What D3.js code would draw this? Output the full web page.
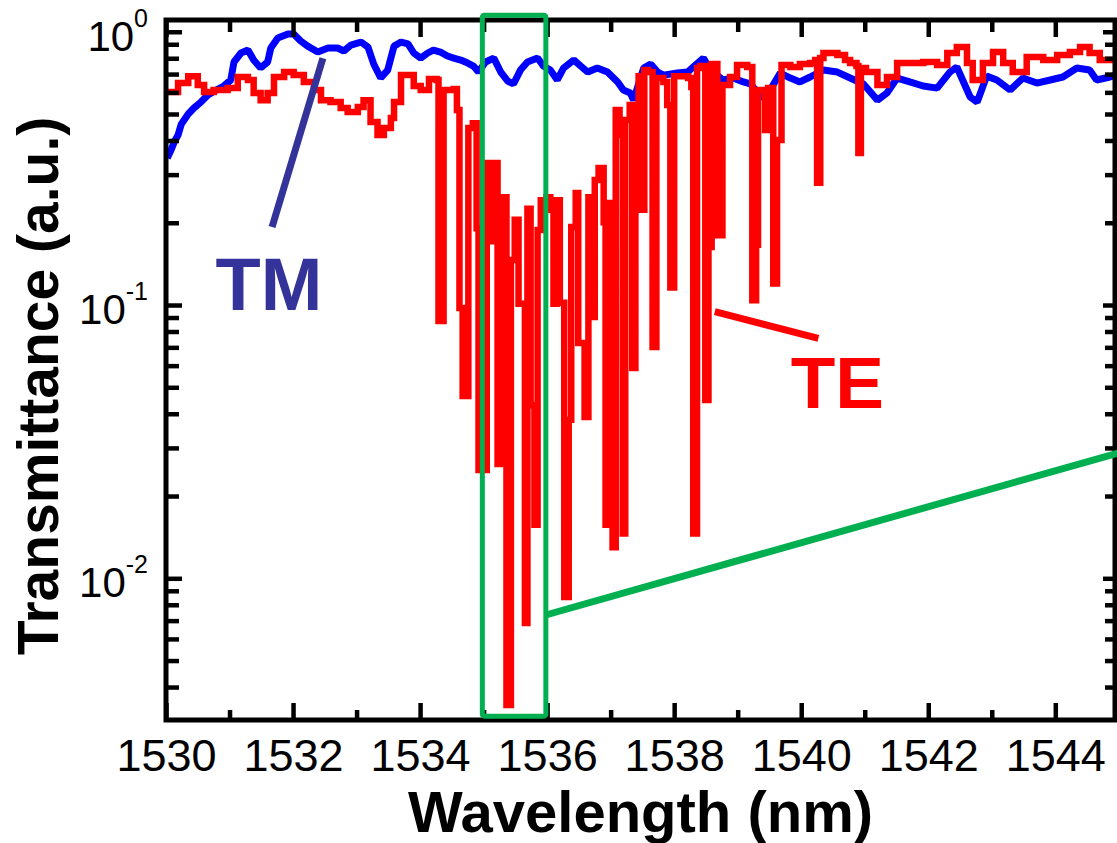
<!DOCTYPE html>
<html>
<head>
<meta charset="utf-8">
<script src="https://cdn.jsdelivr.net/npm/d3@7"></script>
<style>
  body { margin: 0; background: #ffffff; }
  svg { display: block; }
</style>
</head>
<body>
<svg id="chart" width="1117" height="843"></svg>
<script>
// ---- Measured spectra: wavelength (nm) and transmittance (a.u.) ----
const tmWavelength = [
  1530.02, 1530.08, 1530.13, 1530.19, 1530.24, 1530.35, 1530.44, 1530.55, 1530.66, 1530.82,
  1530.91, 1531.02, 1531.07, 1531.18, 1531.29, 1531.38, 1531.49, 1531.60, 1531.65, 1531.76,
  1531.92, 1532.01, 1532.12, 1532.23, 1532.39, 1532.55, 1532.70, 1532.80, 1532.91, 1533.07,
  1533.18, 1533.27, 1533.38, 1533.49, 1533.59, 1533.70, 1533.81, 1533.90, 1534.01, 1534.12,
  1534.21, 1534.32, 1534.43, 1534.53, 1534.64, 1534.75, 1534.84, 1534.92, 1535.03, 1535.16,
  1535.27, 1535.38, 1535.47, 1535.58, 1535.69, 1535.85, 1535.94, 1536.05, 1536.16, 1536.26,
  1536.42, 1536.53, 1536.64, 1536.79, 1536.95, 1537.11, 1537.20, 1537.31, 1537.36, 1537.42,
  1537.52, 1537.63, 1537.74, 1537.83, 1538.05, 1538.21, 1538.37, 1538.46, 1538.57, 1538.77,
  1538.93, 1539.09, 1539.20, 1539.31, 1539.40, 1539.51, 1539.67, 1539.83, 1539.98, 1540.14,
  1540.35, 1540.57, 1540.77, 1540.98, 1541.20, 1541.35, 1541.51, 1541.71, 1541.92, 1542.14,
  1542.34, 1542.45, 1542.66, 1542.77, 1542.92, 1543.08, 1543.29, 1543.49, 1543.71, 1543.92,
  1544.12, 1544.34, 1544.54, 1544.65, 1544.86, 1544.97
];
const tmTransmittance = [
  0.345, 0.369, 0.395, 0.419, 0.459, 0.500, 0.526, 0.553, 0.587, 0.617,
  0.633, 0.666, 0.775, 0.836, 0.857, 0.788, 0.737, 0.775, 0.872, 0.948,
  0.981, 0.981, 0.925, 0.886, 0.843, 0.872, 0.872, 0.850, 0.894, 0.917,
  0.879, 0.762, 0.677, 0.724, 0.886, 0.917, 0.902, 0.836, 0.801, 0.836,
  0.857, 0.843, 0.815, 0.801, 0.788, 0.768, 0.749, 0.712, 0.775, 0.801,
  0.712, 0.660, 0.644, 0.724, 0.775, 0.801, 0.749, 0.724, 0.666, 0.737,
  0.788, 0.749, 0.712, 0.737, 0.712, 0.655, 0.612, 0.597, 0.562, 0.622,
  0.737, 0.762, 0.712, 0.694, 0.706, 0.712, 0.768, 0.801, 0.724, 0.666,
  0.677, 0.655, 0.644, 0.602, 0.572, 0.612, 0.706, 0.677, 0.655, 0.683,
  0.724, 0.712, 0.677, 0.644, 0.562, 0.597, 0.677, 0.655, 0.633, 0.622,
  0.712, 0.743, 0.577, 0.553, 0.688, 0.666, 0.612, 0.677, 0.649, 0.666,
  0.683, 0.737, 0.724, 0.666, 0.683, 0.694
];

const teWavelength = [
  1530.02, 1530.19, 1530.35, 1530.50, 1530.60, 1530.75, 1530.97, 1531.13, 1531.29, 1531.38,
  1531.49, 1531.60, 1531.70, 1531.86, 1532.01, 1532.17, 1532.33, 1532.44, 1532.59, 1532.75,
  1532.86, 1533.02, 1533.11, 1533.22, 1533.33, 1533.43, 1533.54, 1533.59, 1533.70, 1533.81,
  1533.90, 1534.01, 1534.14, 1534.26, 1534.29, 1534.37, 1534.53, 1534.58, 1534.62, 1534.67,
  1534.76, 1534.83, 1534.89, 1534.92, 1535.05, 1535.11, 1535.16, 1535.22, 1535.28, 1535.36,
  1535.43, 1535.49, 1535.55, 1535.65, 1535.69, 1535.74, 1535.80, 1535.85, 1535.90, 1535.99,
  1536.05, 1536.10, 1536.15, 1536.20, 1536.27, 1536.34, 1536.38, 1536.45, 1536.49, 1536.59,
  1536.65, 1536.68, 1536.75, 1536.81, 1536.89, 1536.92, 1536.97, 1537.03, 1537.08, 1537.14,
  1537.19, 1537.23, 1537.30, 1537.34, 1537.39, 1537.44, 1537.48, 1537.53, 1537.59, 1537.66,
  1537.72, 1537.83, 1537.89, 1537.94, 1538.00, 1538.22, 1538.27, 1538.30, 1538.36, 1538.41,
  1538.49, 1538.54, 1538.59, 1538.68, 1538.76, 1538.88, 1538.99, 1539.15, 1539.23, 1539.29,
  1539.32, 1539.43, 1539.48, 1539.56, 1539.62, 1539.69, 1539.83, 1539.98, 1540.14, 1540.22,
  1540.25, 1540.30, 1540.35, 1540.57, 1540.69, 1540.77, 1540.87, 1540.90, 1540.94, 1541.02,
  1541.20, 1541.35, 1541.51, 1541.71, 1541.92, 1542.14, 1542.30, 1542.45, 1542.61, 1542.70,
  1542.86, 1543.02, 1543.18, 1543.33, 1543.55, 1543.81, 1544.03, 1544.23, 1544.39, 1544.54,
  1544.70, 1544.97
];
const teTransmittance = [
  0.602, 0.649, 0.688, 0.638, 0.602, 0.612, 0.622, 0.683, 0.666, 0.597,
  0.562, 0.597, 0.683, 0.712, 0.694, 0.655, 0.612, 0.562, 0.553, 0.526,
  0.508, 0.530, 0.562, 0.467, 0.419, 0.444, 0.483, 0.553, 0.694, 0.694,
  0.633, 0.612, 0.671, 0.666, 0.0874, 0.612, 0.617, 0.517, 0.0975, 0.0465,
  0.444, 0.463, 0.191, 0.0249, 0.331, 0.171, 0.331, 0.0262, 0.248, 0.00344,
  0.146, 0.205, 0.101, 0.00686, 0.225, 0.0430, 0.0157, 0.188, 0.242, 0.248,
  0.223, 0.101, 0.242, 0.102, 0.00854, 0.0380, 0.193, 0.257, 0.0726, 0.0389,
  0.248, 0.0904, 0.287, 0.317, 0.201, 0.0157, 0.236, 0.0130, 0.517, 0.419,
  0.0146, 0.475, 0.539, 0.0588, 0.287, 0.688, 0.223, 0.724, 0.712, 0.0702,
  0.677, 0.655, 0.539, 0.116, 0.688, 0.677, 0.628, 0.0146, 0.737, 0.749,
  0.0449, 0.163, 0.762, 0.180, 0.638, 0.683, 0.755, 0.743, 0.104, 0.166,
  0.612, 0.437, 0.622, 0.120, 0.402, 0.755, 0.743, 0.762, 0.768, 0.788,
  0.280, 0.801, 0.836, 0.822, 0.788, 0.768, 0.749, 0.360, 0.737, 0.712,
  0.638, 0.683, 0.768, 0.768, 0.775, 0.755, 0.836, 0.879, 0.768, 0.666,
  0.768, 0.843, 0.768, 0.712, 0.808, 0.788, 0.822, 0.843, 0.879, 0.836,
  0.788, 0.822
];

// ---- Axis ticks ----
const xMajorTicks = [1530, 1532, 1534, 1536, 1538, 1540, 1542, 1544];
const xMinorTicks = [1531, 1533, 1535, 1537, 1539, 1541, 1543];
const yMajorTicks = [1, 0.1, 0.01];
const yMajorExponents = ["0", "-1", "-2"];
const yMinorTicks = [0.004, 0.005, 0.006, 0.007, 0.008, 0.009,
                     0.02, 0.03, 0.04, 0.05, 0.06, 0.07, 0.08, 0.09,
                     0.2, 0.3, 0.4, 0.5, 0.6, 0.7, 0.8, 0.9];

// ---- Annotations (data coordinates) ----
const zoomWindow = { from: 1534.98, to: 1535.98, top: 1.15, bottom: 0.00313 };
const zoomConnector = [[1535.98, 0.00734], [1545.05, 0.029]];
const tmPointer = [[1531.67, 0.193], [1532.47, 0.80]];
const tePointer = [[1538.64, 0.0945], [1540.27, 0.0755]];
const tmLabel = { text: "TM", wl: 1531.62, t: 0.0959 };
const teLabel = { text: "TE", wl: 1540.57, t: 0.042 };

// ---- Layout ----
const xDomain = [1530, 1544.94];
const yDomain = [0.00303, 1.104];
const plot = { left: 166, right: 1115, top: 20, bottom: 720 };
const FONT = "'Liberation Sans', Arial, Helvetica, sans-serif";
const BLUE = "#0000ff", RED = "#ff0000", GREEN = "#00b050", NAVY = "#333399";

const x = d3.scaleLinear().domain(xDomain).range([plot.left, plot.right]);
const y = d3.scaleLog().domain(yDomain).range([plot.bottom, plot.top]);

const svg = d3.select("#chart");
svg.append("rect").attr("width", 1117).attr("height", 843).attr("fill", "#fff");

svg.append("defs").append("clipPath").attr("id", "plotClip")
  .append("rect")
  .attr("x", plot.left).attr("y", plot.top)
  .attr("width", plot.right - plot.left).attr("height", plot.bottom - plot.top);

// ---- Spectra ----
// TM is a smooth trace; TE is drawn as a held (step) trace so its narrow
// resonance dips read as vertical bars.
const tmLine = d3.line()
  .x(d => x(d[0]))
  .y(d => y(d[1]));
const teLine = d3.line()
  .x(d => x(d[0]))
  .y(d => y(d[1]))
  .curve(d3.curveStepAfter);

const tmData = tmWavelength.map((w, i) => [w, tmTransmittance[i]]);
const teData = teWavelength.map((w, i) => [w, teTransmittance[i]]);

const curves = svg.append("g").attr("clip-path", "url(#plotClip)");
curves.append("path").datum(tmData)
  .attr("d", tmLine).attr("fill", "none")
  .attr("stroke", BLUE).attr("stroke-width", 7)
  .attr("stroke-linejoin", "bevel");
curves.append("path").datum(teData)
  .attr("d", teLine).attr("fill", "none")
  .attr("stroke", RED).attr("stroke-width", 6.5)
  .attr("stroke-linejoin", "miter");

// ---- Ticks (pointing inward on all four sides) ----
function ticks(axis, translate) {
  const g = svg.append("g").attr("transform", translate).call(axis);
  g.select(".domain").remove();
  g.selectAll(".tick line").attr("stroke", "#000").attr("stroke-width", 4.5);
  return g;
}

const xLabels = ticks(d3.axisBottom(x).tickValues(xMajorTicks).tickSizeInner(-17).tickSizeOuter(0)
  .tickFormat(d3.format("d")), `translate(0,${plot.bottom})`);
xLabels.selectAll(".tick text")
  .attr("y", 51).attr("dy", 0)
  .attr("fill", "#000")
  .style("font-family", FONT).style("font-size", "45px");
ticks(d3.axisBottom(x).tickValues(xMinorTicks).tickSizeInner(-10).tickSizeOuter(0).tickFormat(""),
  `translate(0,${plot.bottom})`);
ticks(d3.axisTop(x).tickValues(xMajorTicks).tickSizeInner(-17).tickSizeOuter(0).tickFormat(""),
  `translate(0,${plot.top})`);
ticks(d3.axisTop(x).tickValues(xMinorTicks).tickSizeInner(-12).tickSizeOuter(0).tickFormat(""),
  `translate(0,${plot.top})`);
ticks(d3.axisLeft(y).tickValues(yMajorTicks).tickSizeInner(-16).tickSizeOuter(0).tickFormat(""),
  `translate(${plot.left},0)`);
ticks(d3.axisLeft(y).tickValues(yMinorTicks).tickSizeInner(-13).tickSizeOuter(0).tickFormat(""),
  `translate(${plot.left},0)`);
ticks(d3.axisRight(y).tickValues(yMajorTicks).tickSizeInner(-12).tickSizeOuter(0).tickFormat(""),
  `translate(${plot.right},0)`);
ticks(d3.axisRight(y).tickValues(yMinorTicks).tickSizeInner(-10).tickSizeOuter(0).tickFormat(""),
  `translate(${plot.right},0)`);

// Power-of-ten labels on the log axis
const yLab = svg.append("g");
yMajorTicks.forEach((v, i) => {
  const t = yLab.append("text")
    .attr("x", 148).attr("y", y(v) + 19)
    .attr("text-anchor", "end")
    .attr("fill", "#000")
    .style("font-family", FONT);
  t.append("tspan").style("font-size", "42px").text("10");
  t.append("tspan").style("font-size", "25px").attr("dy", -24).text(yMajorExponents[i]);
});

// Frame
svg.append("rect")
  .attr("x", x(xDomain[0])).attr("y", y(yDomain[1]))
  .attr("width", x(xDomain[1]) - x(xDomain[0]))
  .attr("height", y(yDomain[0]) - y(yDomain[1]))
  .attr("fill", "none").attr("stroke", "#000").attr("stroke-width", 5);

// Axis titles
svg.append("text")
  .attr("x", (plot.left + plot.right) / 2).attr("y", 832)
  .attr("text-anchor", "middle")
  .style("font-family", FONT).style("font-size", "58px").style("font-weight", "bold")
  .text("Wavelength (nm)");
svg.append("text")
  .attr("transform", "translate(58,386) rotate(-90)")
  .attr("text-anchor", "middle")
  .style("font-family", FONT).style("font-size", "57px").style("font-weight", "bold")
  .text("Transmittance (a.u.)");

// ---- Zoomed window and its connector ----
svg.append("rect")
  .attr("x", x(zoomWindow.from)).attr("y", y(zoomWindow.top))
  .attr("width", x(zoomWindow.to) - x(zoomWindow.from))
  .attr("height", y(zoomWindow.bottom) - y(zoomWindow.top))
  .attr("rx", 2)
  .attr("fill", "none").attr("stroke", GREEN).attr("stroke-width", 5);
svg.append("line")
  .attr("x1", x(zoomConnector[0][0])).attr("y1", y(zoomConnector[0][1]))
  .attr("x2", x(zoomConnector[1][0])).attr("y2", y(zoomConnector[1][1]))
  .attr("stroke", GREEN).attr("stroke-width", 7);

// ---- Series labels with pointers ----
svg.append("line")
  .attr("x1", x(tmPointer[0][0])).attr("y1", y(tmPointer[0][1]))
  .attr("x2", x(tmPointer[1][0])).attr("y2", y(tmPointer[1][1]))
  .attr("stroke", NAVY).attr("stroke-width", 7);
svg.append("text")
  .attr("x", x(tmLabel.wl)).attr("y", y(tmLabel.t))
  .attr("text-anchor", "middle").attr("fill", NAVY)
  .style("font-family", FONT).style("font-size", "74px").style("font-weight", "bold")
  .text(tmLabel.text);

svg.append("line")
  .attr("x1", x(tePointer[0][0])).attr("y1", y(tePointer[0][1]))
  .attr("x2", x(tePointer[1][0])).attr("y2", y(tePointer[1][1]))
  .attr("stroke", RED).attr("stroke-width", 7);
svg.append("text")
  .attr("x", x(teLabel.wl)).attr("y", y(teLabel.t))
  .attr("text-anchor", "middle").attr("fill", RED)
  .style("font-family", FONT).style("font-size", "73px").style("font-weight", "bold")
  .text(teLabel.text);
</script>
</body>
</html>
